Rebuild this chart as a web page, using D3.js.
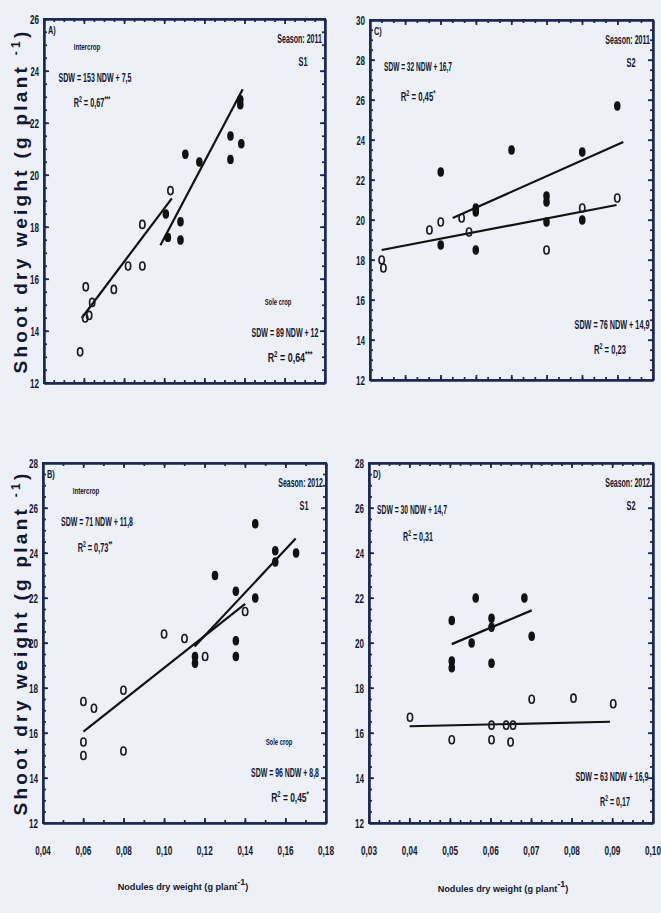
<!DOCTYPE html>
<html><head><meta charset="utf-8">
<script src="https://cdn.jsdelivr.net/npm/d3@7"></script>
<style>html,body{margin:0;padding:0;background:#edf0f7;} svg{display:block}</style>
</head><body><svg id="c" width="661" height="913"></svg>
<script>
// ---------- DATA ----------
const xTicksAB = [0.04,0.06,0.08,0.10,0.12,0.14,0.16,0.18];
const xTickLabelsAB = ["0,04","0,06","0,08","0,10","0,12","0,14","0,16","0,18"];
const xTicksD = [0.03,0.04,0.05,0.06,0.07,0.08,0.09,0.10];
const xTickLabelsD = ["0,03","0,04","0,05","0,06","0,07","0,08","0,09","0,10"];
const yTicksA = [12,14,16,18,20,22,24,26];
const yTicksC = [12,14,16,18,20,22,24,26,28,30];
const yTicksBD = [12,14,16,18,20,22,24,26,28];

// [nodules dry weight, shoot dry weight]
const aOpen = [[0.058,13.2],[0.0608,15.7],[0.0605,14.5],[0.0625,14.6],[0.064,15.1],[0.0748,15.6],[0.0819,16.5],[0.089,16.5],[0.089,18.1],[0.103,19.4]];
const aFilled = [[0.1007,18.5],[0.1017,17.6],[0.108,18.2],[0.108,17.5],[0.1104,20.8],[0.1174,20.5],[0.1329,21.5],[0.1329,20.6],[0.1383,21.2],[0.1378,22.9],[0.1378,22.7]];
const aLines = [[0.0588,14.5,0.1037,19.1],[0.098,17.3,0.139,23.3]];

const cOpen = [[0.0233,18.0],[0.0238,17.6],[0.0368,19.5],[0.040,19.9],[0.0459,20.1],[0.048,19.4],[0.0699,18.5],[0.080,20.6],[0.0899,21.1]];
const cFilled = [[0.040,22.4],[0.040,18.75],[0.0499,20.6],[0.0499,20.4],[0.0499,18.5],[0.060,23.5],[0.0699,21.2],[0.0699,20.9],[0.0699,19.9],[0.080,23.4],[0.080,20.0],[0.0899,25.7]];
const cLines = [[0.0434,20.1,0.0916,23.9],[0.0233,18.5,0.0897,20.75]];

const bOpen = [[0.060,17.4],[0.0652,17.1],[0.060,15.6],[0.060,15.0],[0.0798,17.9],[0.0798,15.2],[0.0999,20.4],[0.110,20.2],[0.1202,19.4],[0.140,21.4]];
const bFilled = [[0.1152,19.4],[0.1152,19.1],[0.1251,23.0],[0.1354,22.3],[0.1354,20.1],[0.1354,19.4],[0.145,25.3],[0.145,22.0],[0.1549,24.1],[0.1549,23.6],[0.1652,24.0]];
const bLines = [[0.060,16.06,0.140,21.74],[0.115,19.84,0.165,24.64]];

const dOpen = [[0.0401,16.7],[0.0504,15.7],[0.0602,16.35],[0.0602,15.7],[0.0638,16.35],[0.0655,16.35],[0.0649,15.6],[0.0701,17.5],[0.0804,17.55],[0.0902,17.3]];
const dFilled = [[0.0504,21.0],[0.0504,19.2],[0.0504,18.9],[0.0553,20.0],[0.0563,22.0],[0.0602,21.1],[0.0602,20.7],[0.0602,19.1],[0.0683,22.0],[0.0701,20.3]];
const dLines = [[0.0504,19.95,0.0701,21.45],[0.040,16.3,0.0894,16.5]];

const panelLetters = ["A)","C)","B)","D)"];
const seasons = ["Season: 2011","Season: 2011","Season: 2012","Season: 2012"];
const sites = ["S1","S2","S1","S2"];
const eqTop = ["SDW = 153 NDW + 7,5","SDW = 32 NDW + 16,7","SDW = 71 NDW + 11,8","SDW = 30 NDW + 14,7"];
const r2Top = [["0,67","***"],["0,45","*"],["0,73","**"],["0,31",""]];
const eqBottom = ["SDW = 89 NDW + 12","SDW = 76 NDW + 14,9","SDW = 96 NDW + 8,8","SDW = 63 NDW + 16,9"];
const r2Bottom = [["0,64","***"],["0,23",""],["0,45","*"],["0,17",""]];
const yTitle = "Shoot dry weight (g plant";
const xTitle = "Nodules dry weight (g plant";

// ---------- DRAW ----------
const svg = d3.select("#c");
const ink = "#121731";
const frameCol = "#1d2852";
const narrow = "'Liberation Sans Narrow','Arial Narrow','Liberation Sans',Arial,sans-serif";

function fitText(g, x, y, parts, size, width, anchor, opts={}) {
  const t = g.append("text")
    .attr("font-family", opts.family || narrow)
    .attr("font-weight", opts.weight || "bold")
    .attr("font-size", size).attr("fill", ink)
    .attr("text-anchor", anchor);
  parts.filter(p => p.t !== "").forEach(p => {
    const ts = t.append("tspan").text(p.t);
    if (p.sup) ts.attr("baseline-shift", "super").attr("font-size", size*0.7);
  });
  const w = t.node().getBBox().width;
  const s = (w > 0 && isFinite(width / w)) ? width / w : 1;
  t.attr("transform", `translate(${x},${y}) scale(${s.toFixed(4)},1)`);
  return t;
}

const panels = [
  {l:44,r:325,t:19,b:383, xd:[0.04,0.18], yd:[12,26], yt:yTicksA, xmaj:0.02, xminor:0.005, ymin:0.5, open:aOpen, filled:aFilled, lines:aLines, xt:null, intercrop:true, sole:true},
  {l:370,r:653,t:20,b:380, xd:[0.02,0.10], yd:[12,30], yt:yTicksC, xmaj:0.01, xminor:0.01/3, ymin:0.5, open:cOpen, filled:cFilled, lines:cLines, xt:null, intercrop:false, sole:false},
  {l:43,r:326,t:463,b:823, xd:[0.04,0.18], yd:[12,28], yt:yTicksBD, xmaj:0.02, xminor:0.01, ymin:0.5, open:bOpen, filled:bFilled, lines:bLines, xt:[xTicksAB,xTickLabelsAB], intercrop:true, sole:true},
  {l:369,r:653,t:463,b:823, xd:[0.03,0.10], yd:[12,28], yt:yTicksBD, xmaj:0.01, xminor:0.0025, ymin:0.5, open:dOpen, filled:dFilled, lines:dLines, xt:[xTicksD,xTickLabelsD], intercrop:false, sole:false}
];

panels.forEach((p, i) => {
  const g = svg.append("g");
  const x = d3.scaleLinear().domain(p.xd).range([p.l, p.r]);
  const y = d3.scaleLinear().domain(p.yd).range([p.b, p.t]);

  const xMinor = d3.range(p.xd[0], p.xd[1] + 1e-9, p.xminor);
  const yMinor = d3.range(p.yd[0], p.yd[1] + 1e-9, p.ymin);
  const xMajor = p.xt ? p.xt[0] : d3.range(p.xd[0], p.xd[1] + 1e-9, p.xmaj);

  // d3 axes (ticks inward, domain = frame)
  const mk = [
    [d3.axisBottom, x, `translate(0,${p.b})`],
    [d3.axisTop, x, `translate(0,${p.t})`],
    [d3.axisLeft, y, `translate(${p.l},0)`],
    [d3.axisRight, y, `translate(${p.r},0)`]
  ];
  mk.forEach(([ax, sc, tr], k) => {
    const minorVals = k < 2 ? xMinor : yMinor;
    const majorVals = k < 2 ? xMajor : p.yt;
    const a1 = g.append("g").attr("transform", tr)
      .call(ax(sc).tickValues(minorVals).tickSize(-3).tickSizeOuter(0).tickFormat(""));
    const a2 = g.append("g").attr("transform", tr)
      .call(ax(sc).tickValues(majorVals).tickSize(-5).tickSizeOuter(0).tickFormat(""));
    [a1, a2].forEach(a => {
      a.selectAll(".tick text").remove();
      a.selectAll(".tick line").attr("stroke", frameCol).attr("stroke-width", 1.2);
      a.select("path.domain").attr("stroke", frameCol).attr("stroke-width", 2);
    });
  });

  // frame and ticks reinforced as filled shapes (positions from the scales)
  const fr = g.append("g").attr("fill", frameCol);
  const [x0, x1] = x.range(), [y0, y1] = y.range();
  fr.append("rect").attr("x", x0 - 0.9).attr("y", y1 - 0.9).attr("width", x1 - x0 + 1.8).attr("height", 1.8);
  fr.append("rect").attr("x", x0 - 0.9).attr("y", y0 - 0.9).attr("width", x1 - x0 + 1.8).attr("height", 1.8);
  fr.append("rect").attr("x", x0 - 0.9).attr("y", y1 - 0.9).attr("width", 1.8).attr("height", y0 - y1 + 1.8);
  fr.append("rect").attr("x", x1 - 0.9).attr("y", y1 - 0.9).attr("width", 1.8).attr("height", y0 - y1 + 1.8);
  const xTickSet = xMinor.map(v => [v, 3]).concat(xMajor.map(v => [v, 5]));
  const yTickSet = yMinor.map(v => [v, 3]).concat(p.yt.map(v => [v, 5]));
  fr.selectAll(".xtb").data(xTickSet).join("rect").attr("class", "xtb")
    .attr("x", d => x(d[0]) - 0.6).attr("y", d => y0 - d[1]).attr("width", 1.2).attr("height", d => d[1]);
  fr.selectAll(".xtt").data(xTickSet).join("rect").attr("class", "xtt")
    .attr("x", d => x(d[0]) - 0.6).attr("y", y1).attr("width", 1.2).attr("height", d => d[1]);
  fr.selectAll(".ytl").data(yTickSet).join("rect").attr("class", "ytl")
    .attr("x", x0).attr("y", d => y(d[0]) - 0.6).attr("width", d => d[1]).attr("height", 1.2);
  fr.selectAll(".ytr").data(yTickSet).join("rect").attr("class", "ytr")
    .attr("x", d => x1 - d[1]).attr("y", d => y(d[0]) - 0.6).attr("width", d => d[1]).attr("height", 1.2);

  // tick labels
  p.yt.forEach(v => fitText(g, p.l-5, y(v)+5, [{t:String(v)}], 13, 9, "end"));
  if (p.xt) p.xt[0].forEach((v, k) => fitText(g, x(v), p.b+32, [{t:p.xt[1][k]}], 13, 16, "middle"));

  // regression lines
  g.selectAll(".fit").data(p.lines).join("line").attr("class", "fit")
    .attr("x1", L => x(L[0])).attr("y1", L => y(L[1])).attr("x2", L => x(L[2])).attr("y2", L => y(L[3]))
    .attr("stroke", "#111").attr("stroke-width", 2.2);

  // points
  g.selectAll(".op").data(p.open).join("ellipse").attr("class", "op")
    .attr("cx", d => x(d[0])).attr("cy", d => y(d[1])).attr("rx", 2.6).attr("ry", 4)
    .attr("fill", "none").attr("stroke", "#1a1a22").attr("stroke-width", 1.7);
  g.selectAll(".fp").data(p.filled).join("ellipse").attr("class", "fp")
    .attr("cx", d => x(d[0])).attr("cy", d => y(d[1])).attr("rx", 3.3).attr("ry", 4.7)
    .attr("fill", "#111");

  // annotations
  fitText(g, p.l+4, p.t+15, [{t:panelLetters[i]}], 11, 8, "start");
  fitText(g, p.r-3, p.t+24, [{t:seasons[i]}], 12, 45, "end");
  fitText(g, p.r-22, p.t+47, [{t:sites[i]}], 13, 9, "middle");
  const topY = p.intercrop ? p.t+63 : p.t+51;
  if (p.intercrop) fitText(g, p.l+43, p.t+31, [{t:"Intercrop"}], 9, 27, "middle");
  fitText(g, p.l+[51,48,54,43][i], topY, [{t:eqTop[i]}], 13, [73,68,72,70][i], "middle");
  fitText(g, p.l+[48,48,52,49][i], topY+[25,30,26,27][i],
    [{t:"R"},{t:"2",sup:true},{t:" = " + r2Top[i][0]},{t:r2Top[i][1],sup:true}], 13, [37,35,35,30][i], "middle");
  if (p.sole) fitText(g, p.r-47, p.b-78, [{t:"Sole crop"}], 9, 27, "middle");
  fitText(g, p.r-[40,41,41,41][i], p.b-[46,51,46,42][i], [{t:eqBottom[i]}], 13, [67,75,68,73][i], "middle");
  fitText(g, p.r-[35,43,36,38][i], p.b-[21,26,21,17][i],
    [{t:"R"},{t:"2",sup:true},{t:" = " + r2Bottom[i][0]},{t:r2Bottom[i][1],sup:true}], 13, [45,32,38,30][i], "middle");
});

// y axis titles
[201, 643].forEach(cy => {
  const tg = svg.append("g").attr("transform", `translate(27,${cy}) rotate(-90)`);
  const t = tg.append("text").attr("x", 0).attr("y", 0)
    .attr("font-family", "'Liberation Sans',Arial,sans-serif").attr("font-weight", "bold")
    .attr("font-size", 19).attr("fill", ink).attr("text-anchor", "middle");
  t.append("tspan").text(yTitle + " ");
  t.append("tspan").text("-1").attr("baseline-shift", "super").attr("font-size", 12);
  t.append("tspan").text(")");
  const w = t.node().getComputedTextLength();
  const n = (yTitle + " -1)").length;
  const ls = Math.max(0, Math.min(4, (345 - w) / n));
  t.attr("letter-spacing", ls.toFixed(2));
});

// x axis titles
[[183, 890],[503, 892]].forEach(([cx, cy]) => {
  const t = svg.append("text").attr("x", cx).attr("y", cy)
    .attr("font-family", narrow).attr("font-weight", "bold")
    .attr("font-size", 14).attr("fill", ink).attr("text-anchor", "middle");
  t.append("tspan").text(xTitle);
  t.append("tspan").text("-1").attr("baseline-shift", "super").attr("font-size", 9);
  t.append("tspan").text(")");
  const w = t.node().getComputedTextLength();
  if (w > 0) t.attr("font-size", Math.min(14, 14 * 128 / w).toFixed(2));
});
</script></body></html>
